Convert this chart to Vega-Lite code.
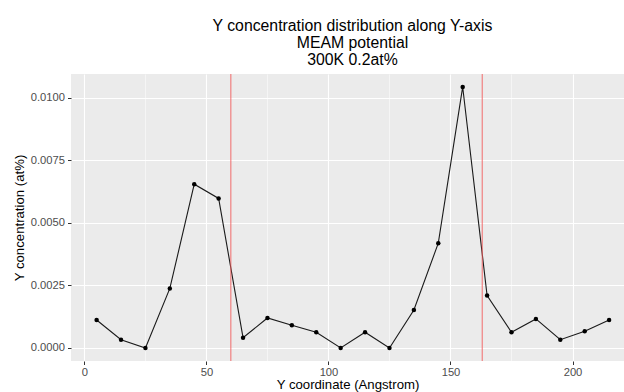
{
  "$schema": "https://vega.github.io/schema/vega-lite/v6.json",
  "autosize": "none",
  "width": 553,
  "height": 287,
  "padding": {"left": 71, "top": 74, "right": 0, "bottom": 31},
  "title": {
    "text": ["Y concentration distribution along Y-axis", "MEAM potential", "300K 0.2at%"],
    "font": "Liberation Sans",
    "fontSize": 15.8,
    "fontWeight": "normal",
    "color": "#000000",
    "lineHeight": 16.7,
    "anchor": "middle",
    "dx": 5,
    "offset": 5
  },
  "config": {
    "view": {"fill": "#EBEBEB", "stroke": null},
    "font": "Liberation Sans",
    "axis": {
      "domain": false,
      "grid": true,
      "gridColor": "#FFFFFF",
      "labelFont": "Liberation Sans",
      "labelFontSize": 11.2,
      "labelColor": "#4D4D4D",
      "tickColor": "#333333",
      "tickSize": 3.5,
      "tickWidth": 1,
      "titleFont": "Liberation Sans",
      "titleFontSize": 13.2,
      "titleFontWeight": "normal",
      "titleColor": "#000000"
    }
  },
  "datasets": {
    "profile": [
      {"y_coord": 5, "conc": 0.00112},
      {"y_coord": 15, "conc": 0.00033},
      {"y_coord": 25, "conc": 0.0},
      {"y_coord": 35, "conc": 0.00238},
      {"y_coord": 45, "conc": 0.00655},
      {"y_coord": 55, "conc": 0.00598},
      {"y_coord": 65, "conc": 0.00041},
      {"y_coord": 75, "conc": 0.0012},
      {"y_coord": 85, "conc": 0.00091},
      {"y_coord": 95, "conc": 0.00063},
      {"y_coord": 105, "conc": 0.0},
      {"y_coord": 115, "conc": 0.00063},
      {"y_coord": 125, "conc": 0.0},
      {"y_coord": 135, "conc": 0.00152},
      {"y_coord": 145, "conc": 0.00419},
      {"y_coord": 155, "conc": 0.01044},
      {"y_coord": 165, "conc": 0.0021},
      {"y_coord": 175, "conc": 0.00063},
      {"y_coord": 185, "conc": 0.00116},
      {"y_coord": 195, "conc": 0.00033},
      {"y_coord": 205, "conc": 0.00067},
      {"y_coord": 215, "conc": 0.00112}
    ],
    "bounds": [
      {"boundary": 60},
      {"boundary": 163}
    ]
  },
  "layer": [
    {
      "data": {"name": "profile"},
      "mark": {"type": "line", "color": "#1A1A1A", "strokeWidth": 1.1},
      "encoding": {
        "x": {
          "field": "y_coord",
          "type": "quantitative",
          "title": "Y coordinate (Angstrom)",
          "scale": {"domain": [-5.5, 221.1], "nice": false, "zero": false},
          "axis": {
            "values": [0, 25, 50, 75, 100, 125, 150, 175, 200],
            "labelExpr": "datum.value % 50 === 0 ? format(datum.value, 'd') : ''",
            "labelPadding": 2,
            "titlePadding": 1,
            "tickOpacity": {"condition": {"test": "datum.value % 50 !== 0", "value": 0}, "value": 1},
            "gridWidth": {"condition": {"test": "datum.value % 50 !== 0", "value": 0.5}, "value": 1.1}
          }
        },
        "y": {
          "field": "conc",
          "type": "quantitative",
          "title": "Y concentration (at%)",
          "scale": {"domain": [-0.000522, 0.010958], "nice": false, "zero": false},
          "axis": {
            "values": [0, 0.00125, 0.0025, 0.00375, 0.005, 0.00625, 0.0075, 0.00875, 0.01],
            "labelExpr": "round(datum.value * 800) % 2 !== 0 ? '' : format(datum.value, '.4f')",
            "labelPadding": 3,
            "titlePadding": 4,
            "tickOpacity": {"condition": {"test": "round(datum.value * 800) % 2 !== 0", "value": 0}, "value": 1},
            "gridWidth": {"condition": {"test": "round(datum.value * 800) % 2 !== 0", "value": 0.5}, "value": 1.1}
          }
        }
      }
    },
    {
      "data": {"name": "profile"},
      "mark": {"type": "point", "filled": true, "color": "#000000", "opacity": 1, "size": 20},
      "encoding": {
        "x": {"field": "y_coord", "type": "quantitative"},
        "y": {"field": "conc", "type": "quantitative"}
      }
    },
    {
      "data": {"name": "bounds"},
      "mark": {"type": "rule", "color": "#F25C5C", "strokeWidth": 0.9},
      "encoding": {
        "x": {"field": "boundary", "type": "quantitative"}
      }
    }
  ]
}
